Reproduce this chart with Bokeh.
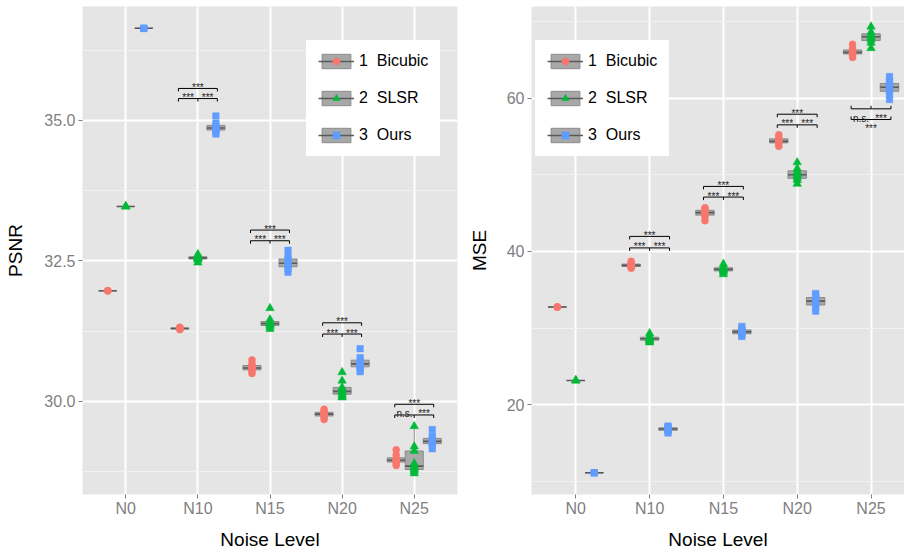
import numpy as np
from bokeh.plotting import figure
from bokeh.models import (Range1d, FixedTicker, Legend, LegendItem, ColumnDataSource,
                          PrintfTickFormatter)
from bokeh.layouts import row
from bokeh.embed import file_html
from bokeh.resources import INLINE
from bokeh.core.properties import value

# ---------------- data ----------------
levels = ["N0", "N10", "N15", "N20", "N25"]
methods = ["Bicubic", "SLSR", "Ours"]
legend_labels = ["1\u00a0 Bicubic", "2\u00a0 SLSR", "3\u00a0 Ours"]

psnr_bicubic = [
    [31.97, 31.97, 31.97],
    [31.28, 31.29, 31.30, 31.30, 31.31, 31.32, 31.30, 31.29],
    [30.50, 30.54, 30.57, 30.59, 30.60, 30.63, 30.67, 30.74],
    [29.68, 29.72, 29.75, 29.77, 29.78, 29.80, 29.83, 29.86],
    [28.86, 28.90, 28.93, 28.95, 28.96, 28.98, 29.05, 29.14],
]
psnr_slsr = [
    [33.47, 33.47, 33.47],
    [32.47, 32.52, 32.54, 32.55, 32.56, 32.57, 32.59, 32.62],
    [31.29, 31.33, 31.36, 31.38, 31.39, 31.41, 31.46, 31.66],
    [30.07, 30.10, 30.13, 30.16, 30.18, 30.21, 30.25, 30.37, 30.52],
    [28.72, 28.76, 28.79, 28.82, 28.85, 28.90, 29.12, 29.20, 29.56],
]
psnr_ours = [
    [36.64, 36.64, 36.64],
    [34.76, 34.80, 34.84, 34.86, 34.87, 34.90, 34.95, 35.08],
    [32.30, 32.36, 32.41, 32.45, 32.47, 32.52, 32.58, 32.69],
    [30.53, 30.58, 30.63, 30.66, 30.68, 30.72, 30.78, 30.94],
    [29.16, 29.22, 29.26, 29.28, 29.30, 29.33, 29.38, 29.50],
]

mse_bicubic = [
    [32.74, 32.74, 32.74],
    [37.8, 37.95, 38.05, 38.15, 38.2, 38.3, 38.45, 38.7],
    [44.0, 44.5, 44.8, 45.0, 45.1, 45.3, 45.5, 45.7],
    [53.7, 54.0, 54.2, 54.3, 54.4, 54.6, 54.9, 55.2],
    [65.3, 65.6, 65.8, 65.9, 66.0, 66.2, 66.5, 67.0],
]
mse_slsr = [
    [23.15, 23.15, 23.15],
    [28.1, 28.3, 28.45, 28.55, 28.65, 28.75, 28.95, 29.3],
    [37.0, 37.3, 37.5, 37.6, 37.7, 37.8, 38.0, 38.35],
    [48.8, 49.3, 49.6, 49.9, 50.1, 50.4, 50.8, 51.6],
    [66.5, 67.2, 67.6, 67.9, 68.1, 68.3, 68.6, 69.3],
]
mse_ours = [
    [11.11, 11.11, 11.11],
    [16.3, 16.55, 16.7, 16.8, 16.85, 16.95, 17.05, 17.2],
    [28.9, 29.1, 29.3, 29.45, 29.55, 29.7, 29.9, 30.2],
    [32.2, 32.7, 33.1, 33.4, 33.6, 33.9, 34.2, 34.5],
    [59.8, 60.5, 61.0, 61.3, 61.5, 61.8, 62.2, 62.8],
]

# significance brackets (levels N10..N25)
sig_levels = ["N10", "N15", "N20", "N25"]
psnr_sig_pair_y = [35.39, 32.86, 31.20, 29.76]
psnr_sig_full_y = [35.57, 33.05, 31.40, 29.95]
psnr_sig_left = ["***", "***", "***", "n.s."]
psnr_sig_right = ["***", "***", "***", "***"]
psnr_sig_full = ["***", "***", "***", "***"]

mse_sig_pair_y = [40.45, 47.08, 56.50, 58.59]
mse_sig_full_y = [41.95, 48.47, 57.89, 57.20]
mse_sig_left = ["***", "***", "***", "n.s."]
mse_sig_right = ["***", "***", "***", "***"]
mse_sig_full = ["***", "***", "***", "***"]

psnr_ticks = [30.0, 32.5, 35.0]
psnr_minor = [28.75, 31.25, 33.75, 36.25]
mse_ticks = [20, 40, 60]
mse_minor = [10, 30, 50, 70]

# ---------------- style ----------------
FONT = "Liberation Sans"
COLORS = ["#F8766D", "#00BA38", "#619CFF"]
MARKERS = ["circle", "triangle", "square"]
SIZES = [7, 8.5, 6.5]
OFFSETS = [-0.25, 0.0, 0.25]
BOX_W = 0.25
ARM = 0.27
FIG_H = 552
TOP = 6
BOTTOM = 58
FRAME_H = FIG_H - TOP - BOTTOM


def box_stats(vals):
    v = np.asarray(vals, float)
    q1, med, q3 = np.percentile(v, [25, 50, 75])
    iqr = q3 - q1
    lo = v[v >= q1 - 1.5 * iqr].min()
    hi = v[v <= q3 + 1.5 * iqr].max()
    return q1, med, q3, lo, hi


def panel(ylabel, series, y_start, y_end, ticks, minor, fmt,
          pair_y, full_y, lab_l, lab_r, lab_f,
          x_end, width, bl, br, ylab_standoff, leg_x):
    p = figure(width=width, height=FIG_H, x_range=Range1d(0.4, x_end),
               y_range=Range1d(y_start, y_end), output_backend="svg",
               toolbar_location=None, min_border_left=bl, min_border_right=br,
               min_border_top=TOP, min_border_bottom=BOTTOM)
    p.background_fill_color = "#E5E5E5"
    p.border_fill_color = "white"
    p.outline_line_color = None

    p.xaxis.ticker = FixedTicker(ticks=list(range(1, len(levels) + 1)))
    p.xaxis.major_label_overrides = {i + 1: lv for i, lv in enumerate(levels)}
    p.yaxis.ticker = FixedTicker(ticks=ticks, minor_ticks=minor)
    p.yaxis.formatter = PrintfTickFormatter(format=fmt)
    p.xaxis.axis_label = "Noise Level"
    p.yaxis.axis_label = ylabel

    for ax in (p.xaxis[0], p.yaxis[0]):
        ax.axis_line_color = None
        ax.major_tick_line_color = "#7F7F7F"
        ax.major_tick_out = 4
        ax.major_tick_in = 0
        ax.minor_tick_line_color = None
        ax.major_label_text_font = FONT
        ax.major_label_text_font_size = "16px"
        ax.major_label_text_color = "#7F7F7F"
        ax.axis_label_text_font = FONT
        ax.axis_label_text_font_size = "19px"
        ax.axis_label_text_font_style = "normal"
        ax.axis_label_text_color = "black"
    p.xaxis.major_label_standoff = 1
    p.xaxis.axis_label_standoff = 9
    p.yaxis.major_label_standoff = 3
    p.yaxis.axis_label_standoff = ylab_standoff

    p.xgrid.grid_line_color = "white"
    p.xgrid.grid_line_width = 2
    p.ygrid.grid_line_color = "white"
    p.ygrid.grid_line_width = 2
    p.ygrid.minor_grid_line_color = "#F2F2F2"
    p.ygrid.minor_grid_line_width = 1

    # boxes
    bx = dict(l=[], r=[], q1=[], q3=[], med=[], lo=[], hi=[], xc=[])
    pts = []
    for m, data in enumerate(series):
        xs, ys = [], []
        for i, vals in enumerate(data):
            xc = i + 1 + OFFSETS[m]
            q1, med, q3, lo, hi = box_stats(vals)
            bx["l"].append(xc - BOX_W / 2)
            bx["r"].append(xc + BOX_W / 2)
            bx["q1"].append(q1)
            bx["q3"].append(q3)
            bx["med"].append(med)
            bx["lo"].append(lo)
            bx["hi"].append(hi)
            bx["xc"].append(xc)
            xs += [xc] * len(vals)
            ys += list(vals)
        pts.append(ColumnDataSource(dict(x=xs, y=ys)))
    bsrc = ColumnDataSource(bx)
    p.segment(x0="xc", x1="xc", y0="q3", y1="hi", source=bsrc,
              line_color="#8A8A8A", line_width=1)
    p.segment(x0="xc", x1="xc", y0="q1", y1="lo", source=bsrc,
              line_color="#8A8A8A", line_width=1)
    box_r = p.quad(left="l", right="r", bottom="q1", top="q3", source=bsrc,
                   fill_color="#A8A8A8", line_color="#8A8A8A", line_width=1)
    med_r = p.segment(x0="l", x1="r", y0="med", y1="med", source=bsrc,
                      line_color="#5A5A5A", line_width=1.6)

    pt_r = []
    for m in range(len(series)):
        r = p.scatter(x="x", y="y", source=pts[m], marker=MARKERS[m],
                      size=SIZES[m], fill_color=COLORS[m], line_color=COLORS[m],
                      line_width=0.5)
        pt_r.append(r)

    # significance brackets
    tick = 3.0 * (y_end - y_start) / FRAME_H
    seg = dict(x0=[], x1=[], y0=[], y1=[])
    txt = dict(x=[], y=[], t=[], off=[])

    def add(a, b, c, d):
        seg["x0"].append(a); seg["x1"].append(b)
        seg["y0"].append(c); seg["y1"].append(d)

    for k, lv in enumerate(sig_levels):
        xc = levels.index(lv) + 1
        xl, xr = xc - ARM, xc + ARM
        yp, yf = pair_y[k], full_y[k]
        d = 1 if yf > yp else -1
        add(xl, xr, yp, yp)
        add(xl, xl, yp, yp - d * tick)
        add(xc, xc, yp, yp - d * tick)
        add(xr, xr, yp, yp - d * tick)
        add(xl, xr, yf, yf)
        add(xl, xl, yf, yf - d * tick)
        add(xr, xr, yf, yf - d * tick)
        off = -1.0 if d > 0 else 9.5
        txt["x"] += [(xl + xc) / 2, (xc + xr) / 2, xc]
        txt["y"] += [yp, yp, yf]
        txt["t"] += [lab_l[k], lab_r[k], lab_f[k]]
        txt["off"] += [off, off, off]
    p.segment(x0="x0", x1="x1", y0="y0", y1="y1", source=ColumnDataSource(seg),
              line_color="black", line_width=1)
    p.text(x="x", y="y", text="t", y_offset="off", source=ColumnDataSource(txt),
           text_font=value(FONT), text_font_size="10px", text_color="#222222",
           text_align="center", text_baseline="alphabetic")

    items = [LegendItem(label=legend_labels[m], renderers=[box_r, med_r, pt_r[m]])
             for m in range(len(series))]
    leg = Legend(items=items, location=(leg_x, 338), glyph_width=36,
                 glyph_height=18, label_height=18, spacing=19, padding=0,
                 margin=0, label_standoff=5, label_text_font=FONT,
                 label_text_font_size="16px", label_text_color="black",
                 background_fill_color="white", background_fill_alpha=1.0,
                 border_line_color="white", border_line_width=12,
                 border_line_join="miter")
    p.add_layout(leg)
    return p


p1 = panel("PSNR", [psnr_bicubic, psnr_slsr, psnr_ours], 28.345, 37.028,
           psnr_ticks, psnr_minor, "%.1f",
           psnr_sig_pair_y, psnr_sig_full_y, psnr_sig_left, psnr_sig_right, psnr_sig_full,
           5.6, 465, 82, 8, 15, 224)
p2 = panel("MSE", [mse_bicubic, mse_slsr, mse_ours], 8.28, 71.94,
           mse_ticks, mse_minor, "%d",
           mse_sig_pair_y, mse_sig_full_y, mse_sig_left, mse_sig_right, mse_sig_full,
           0.4 + 379 / 75.0, 439, 60, 0, 14, 4)

layout = row(p1, p2)
open("out.html", "w").write(file_html(layout, INLINE))
